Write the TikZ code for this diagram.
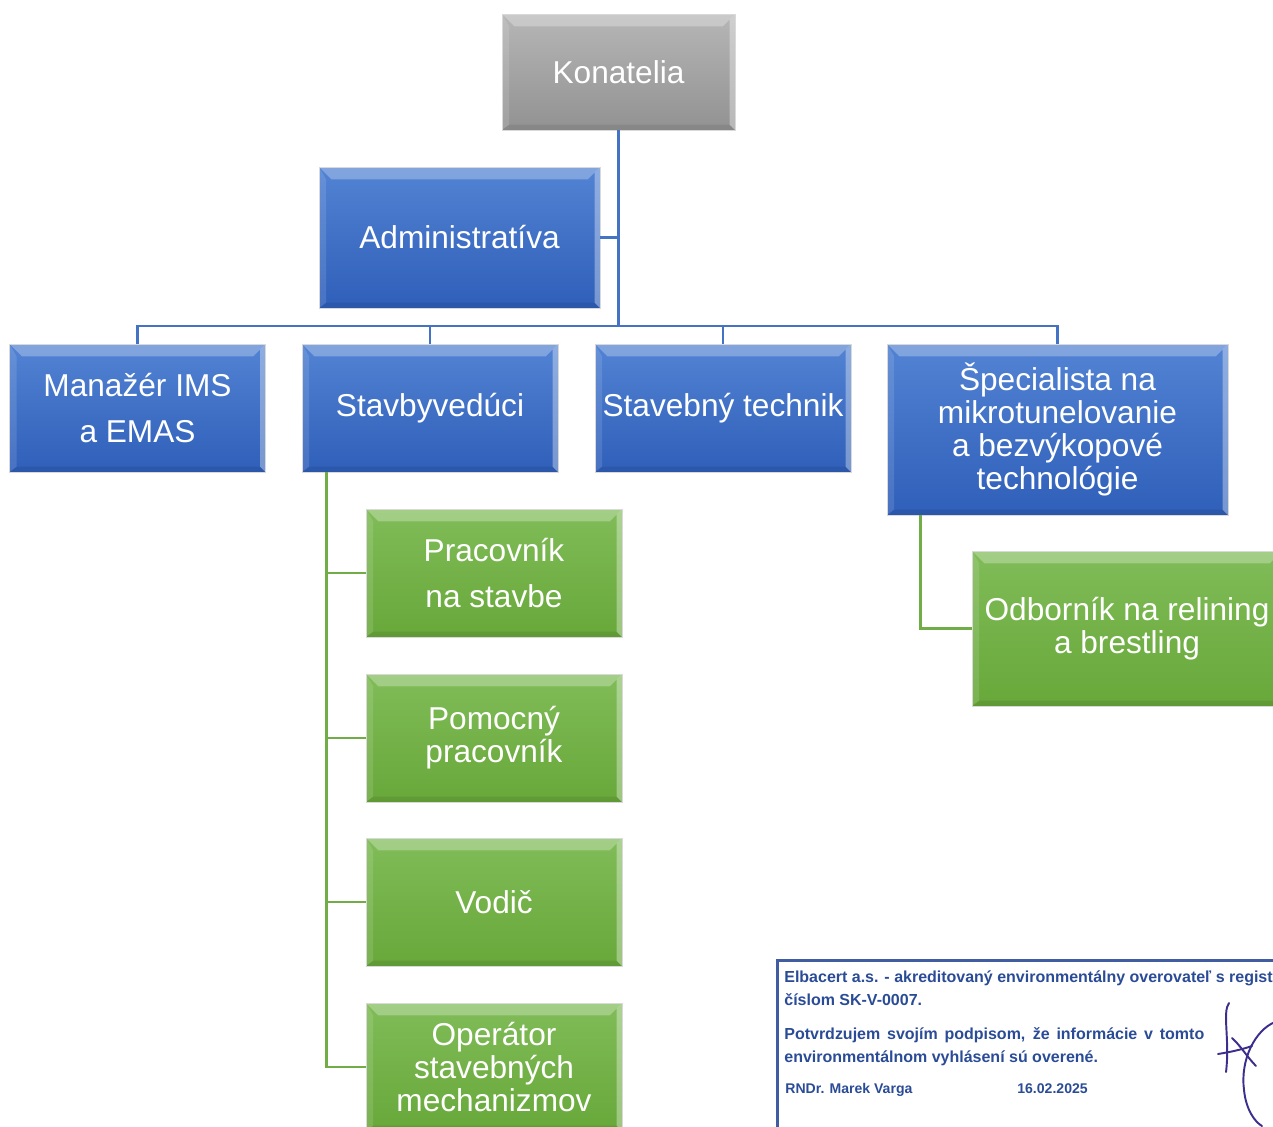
\documentclass[tikz,border=0pt]{standalone}
\usepackage{fontspec}
\setmainfont{Liberation Sans}
\usepackage{xcolor}
\usepackage{tikz}

\definecolor{bluetop}{HTML}{5283D3}
\definecolor{bluebot}{HTML}{2F5FB9}
\definecolor{blueline}{HTML}{4472C4}
\definecolor{greentop}{HTML}{80BC58}
\definecolor{greenbot}{HTML}{68A83A}
\definecolor{greenline}{HTML}{70AD47}
\definecolor{greytop}{HTML}{B6B6B6}
\definecolor{greybot}{HTML}{929292}
\definecolor{stampblue}{HTML}{2A4B96}
\definecolor{inkblue}{HTML}{3B2E8C}

\begin{document}
\begin{tikzpicture}[x=0.02cm,y=-0.02cm,
		bevel/.style={path picture={
			\fill[white,opacity=.28] (path picture bounding box.north west) -- (path picture bounding box.north east) -- ([shift={(-7pt,-7pt)}]path picture bounding box.north east) -- ([shift={(7pt,-7pt)}]path picture bounding box.north west) -- cycle;
			\fill[white,opacity=.35] (path picture bounding box.north east) -- (path picture bounding box.south east) -- ([shift={(-3pt,3pt)}]path picture bounding box.south east) -- ([shift={(-3pt,-3pt)}]path picture bounding box.north east) -- cycle;
			\fill[black,opacity=.08] (path picture bounding box.south west) -- (path picture bounding box.south east) -- ([shift={(-3pt,3pt)}]path picture bounding box.south east) -- ([shift={(4pt,3pt)}]path picture bounding box.south west) -- cycle;
			\fill[white,opacity=.12] (path picture bounding box.north west) -- (path picture bounding box.south west) -- ([shift={(4pt,3pt)}]path picture bounding box.south west) -- ([shift={(4pt,-7pt)}]path picture bounding box.north west) -- cycle;
		}},
		box/.style={bevel, draw=white!70!gray, line width=0.4pt, text=white, align=center, inner sep=0pt,
			minimum width=5.12cm, minimum height=2.56cm, font=\fontsize{18}{18.7}\selectfont},
		bluebox/.style={box, top color=bluetop, bottom color=bluebot},
		greenbox/.style={box, top color=greentop, bottom color=greenbot},
		greybox/.style={box, top color=greytop, bottom color=greybot},
		wide/.style={font=\fontsize{18}{26}\selectfont},
		blueconn/.style={blueline, line width=1.6pt},
		greenconn/.style={greenline, line width=1.6pt},
		stamptext/.style={anchor=base west, inner sep=0pt, text=stampblue, font=\bfseries\fontsize{9.1}{10}\selectfont}
	]
		\useasboundingbox (0,0) rectangle (1273,1126);
		\clip (0,0) rectangle (1273,1126);

		\node[greybox, minimum width=4.66cm, minimum height=2.32cm] (konatelia) at (618.5,72) {Konatelia};
		\node[bluebox, minimum width=5.62cm, minimum height=2.82cm] (admin) at (459.5,237.5) {Administratíva};

		\node[bluebox, wide] (manazer) at (137.5,408) {Manažér IMS\\a EMAS};
		\node[bluebox] (stavby) at (430,408) {Stavbyvedúci};
		\node[bluebox] (technik) at (723,408) {Stavebný technik};
		\node[bluebox, minimum width=6.82cm, minimum height=3.42cm] (specialista) at (1057.5,429.5) {Špecialista na\\mikrotunelovanie\\a bezvýkopové\\technológie};

		\node[greenbox, wide] (pracovnik) at (494,573) {Pracovník\\na stavbe};
		\node[greenbox] (pomocny) at (494,738) {Pomocný\\pracovník};
		\node[greenbox] (vodic) at (494,902) {Vodič};
		\node[greenbox] (operator) at (494,1067) {Operátor\\stavebných\\mechanizmov};
		\node[greenbox, minimum width=6.2cm, minimum height=3.1cm] (odbornik) at (1127,628.5) {Odborník na relining\\a brestling};

		% blue lines
		\coordinate (bus) at (618.5,326);
		\draw[blueconn] (konatelia.south) -- (bus);
		\draw[blueconn] (admin.east) -- (admin.east -| bus);
		\draw[blueconn] (manazer.north) -- (manazer.north |- bus) -- (specialista.north |- bus) -- (specialista.north);
		\draw[blueconn] (stavby.north) -- (stavby.north |- bus);
		\draw[blueconn] (technik.north) -- (technik.north |- bus);

		% green lines
		\coordinate (stem) at ([xshift=0.5cm]stavby.south west);
		\foreach \n in {pracovnik,pomocny,vodic,operator}
			\draw[greenconn] (stem) |- (\n.west);
		\coordinate (stem2) at ([xshift=0.68cm]specialista.south west);
		\draw[greenconn] (stem2) |- (odbornik.west);

		% stamp
		\draw[stampblue!90!white, line width=1.7pt] (777,960) rectangle (1300,1150);
		\node[stamptext] (s1) at (784,982) {Elbacert a.s. - akreditovaný environmentálny overovateľ s regist};
		\node[stamptext] (s2) at (784,1005) {číslom SK-V-0007.};
		\node[stamptext] (s3) at (784,1039) {\makebox[239pt][s]{Potvrdzujem svojím podpisom, že informácie v tomto}};
		\node[stamptext] (s4) at (784,1062) {environmentálnom vyhlásení sú overené.};
		\node[stamptext, font=\bfseries\fontsize{8}{10}\selectfont] (s5) at (785,1093) {RNDr. Marek Varga};
		\node[stamptext, font=\bfseries\fontsize{8}{10}\selectfont] (s6) at (1017,1093) {16.02.2025};

		% signature
		\draw[inkblue, line width=1.1pt, line cap=round]
			(1229,1003) .. controls (1222,1012) and (1230,1040) .. (1226,1072);
		\draw[inkblue, line width=1.1pt, line cap=round]
			(1218,1054) .. controls (1230,1052) and (1240,1050) .. (1252,1046);
		\draw[inkblue, line width=1.1pt, line cap=round]
			(1232,1038) .. controls (1240,1045) and (1248,1058) .. (1256,1066);
		\draw[inkblue, line width=1.1pt, line cap=round]
			(1275,1022) .. controls (1255,1030) and (1240,1060) .. (1244,1090) .. controls (1246,1110) and (1255,1122) .. (1262,1126);
	\end{tikzpicture}
\end{document}
